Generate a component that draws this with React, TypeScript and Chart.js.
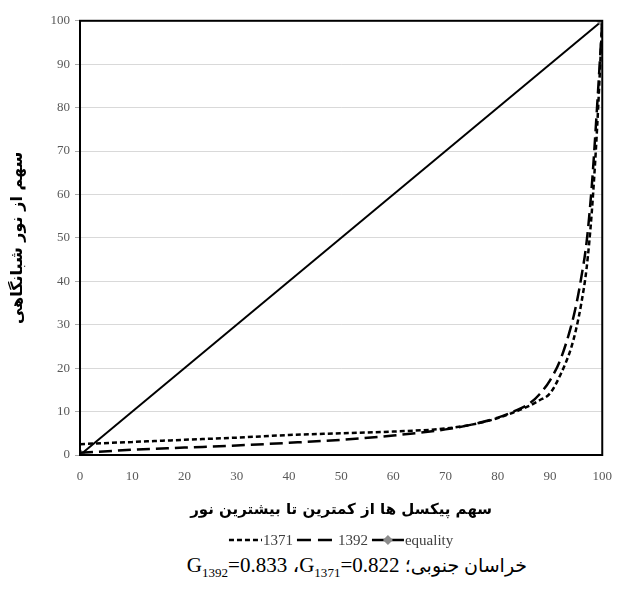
import { useEffect, useRef } from "react";
import { Chart, registerables } from "chart.js";

Chart.register(...registerables);

// ---- data ----
const xValues = [0, 10, 20, 30, 40, 50, 60, 70, 75, 80, 83, 86, 88, 90, 92, 94, 95, 96, 97, 98, 99, 100];
const series1371 = [2.5, 3.0, 3.5, 4.0, 4.6, 5.0, 5.4, 6.1, 7.0, 8.5, 9.8, 11.3, 12.6, 14.2, 18.5, 24.5, 29, 35, 43, 56, 75, 100];
const series1392 = [0.5, 1.2, 1.7, 2.2, 2.8, 3.5, 4.5, 5.9, 7.0, 8.6, 10.0, 11.8, 14.0, 17.2, 22.0, 29.5, 34.5, 41, 49, 62, 80, 100];
const equalityX = [0, 100];
const equalityY = [0, 100];
const seriesNames = ["1371", "1392", "equality"];
const xAxisTitle = "سهم پیکسل ها از کمترین تا بیشترین نور";
const yAxisTitle = "سهم از نور شبانگاهی";

const toPoints = (xs: number[], ys: number[]) => xs.map((x, i) => ({ x, y: ys[i] }));

const serif = "'Liberation Serif', 'Times New Roman', serif";
const persian = "'DejaVu Sans', sans-serif";

const borderPlugin = {
  id: "plotBorder",
  afterDatasetsDraw(chart: any) {
    const { ctx, chartArea: a } = chart;
    ctx.save();
    ctx.strokeStyle = "#000";
    ctx.lineWidth = 2;
    ctx.strokeRect(a.left, a.top, a.right - a.left, a.bottom - a.top);
    ctx.restore();
  },
};

const legendPlugin = {
  id: "customLegend",
  afterDraw(chart: any) {
    const { ctx, chartArea: a, height } = chart;
    const y = height - 10;
    ctx.save();
    ctx.font = `15px ${serif}`;
    ctx.textBaseline = "middle";
    const items = [
      { text: seriesNames[0], dash: [5, 3], sw: 33, diamond: false },
      { text: seriesNames[1], dash: [14, 7], sw: 40, diamond: false },
      { text: seriesNames[2], dash: [], sw: 32, diamond: true },
    ];
    const gap = 4;
    const total = items.reduce((s, it) => s + it.sw + 1 + ctx.measureText(it.text).width + gap, 0) - gap;
    let x = (a.left + a.right) / 2 - total / 2;
    for (const it of items) {
      ctx.strokeStyle = "#000";
      ctx.lineWidth = 2.5;
      ctx.setLineDash(it.dash);
      ctx.beginPath();
      ctx.moveTo(x, y);
      ctx.lineTo(x + it.sw, y);
      ctx.stroke();
      ctx.setLineDash([]);
      if (it.diamond) {
        const cx = x + it.sw / 2;
        ctx.fillStyle = "#8c8c8c";
        ctx.beginPath();
        ctx.moveTo(cx, y - 5);
        ctx.lineTo(cx + 5, y);
        ctx.lineTo(cx, y + 5);
        ctx.lineTo(cx - 5, y);
        ctx.closePath();
        ctx.fill();
      }
      x += it.sw + 1;
      ctx.fillStyle = "#404040";
      ctx.textAlign = "left";
      ctx.fillText(it.text, x, y + 1);
      x += ctx.measureText(it.text).width + gap;
    }
    ctx.restore();
  },
};

export default function App() {
  const ref = useRef<HTMLCanvasElement | null>(null);

  useEffect(() => {
    if (!ref.current) return;
    const chart = new Chart(ref.current, {
      type: "scatter",
      data: {
        datasets: [
          {
            label: seriesNames[0],
            data: toPoints(xValues, series1371),
            showLine: true,
            borderColor: "#000",
            borderWidth: 2.5,
            borderDash: [5, 3],
            pointRadius: 0,
            cubicInterpolationMode: "monotone",
            fill: false,
          },
          {
            label: seriesNames[1],
            data: toPoints(xValues, series1392),
            showLine: true,
            borderColor: "#000",
            borderWidth: 2.5,
            borderDash: [13, 6],
            pointRadius: 0,
            cubicInterpolationMode: "monotone",
            fill: false,
          },
          {
            label: seriesNames[2],
            data: toPoints(equalityX, equalityY),
            showLine: true,
            borderColor: "#000",
            borderWidth: 2,
            pointStyle: "rectRot",
            pointRadius: 5,
            pointBackgroundColor: "#8c8c8c",
            pointBorderColor: "#8c8c8c",
            fill: false,
          },
        ],
      },
      options: {
        responsive: false,
        animation: false,
        layout: { padding: { left: 0, top: 11, right: 15, bottom: 30 } },
        plugins: { legend: { display: false }, tooltip: { enabled: false } },
        scales: {
          x: {
            type: "linear",
            min: 0,
            max: 100,
            afterFit: (s: any) => {
              s.height = 65;
            },
            grid: { display: false, drawTicks: false },
            border: { display: false },
            ticks: {
              stepSize: 10,
              padding: 14,
              color: "#595959",
              font: { family: serif, size: 13 },
              maxRotation: 0,
            },
            title: {
              display: true,
              text: xAxisTitle,
              color: "#000",
              font: { family: persian, size: 15, weight: "bold" },
              padding: { top: 0, bottom: 1 },
            },
          },
          y: {
            type: "linear",
            min: 0,
            max: 100,
            afterFit: (s: any) => {
              s.width = 72;
            },
            grid: {
              color: "#d9d9d9",
              lineWidth: 1,
              drawTicks: true,
              tickLength: 5,
              tickColor: "#aaa",
            },
            border: { display: false },
            ticks: {
              stepSize: 10,
              padding: 5,
              color: "#595959",
              font: { family: serif, size: 13 },
            },
            title: {
              display: true,
              text: yAxisTitle,
              color: "#000",
              font: { family: persian, size: 16, weight: "bold" },
              padding: { top: 0, bottom: 0 },
            },
          },
        },
      },
      plugins: [borderPlugin, legendPlugin],
    });
    return () => chart.destroy();
  }, []);

  return (
    <div>
      <canvas ref={ref} width={618} height={542} style={{ display: "block" }} />
      <div
        style={{
          direction: "ltr",
          textAlign: "center",
          paddingLeft: 88,
          marginTop: 3,
          fontFamily: "'Liberation Serif', 'DejaVu Sans', serif",
          fontSize: 21,
          lineHeight: "25px",
          color: "#000",
        }}
      >
        <span>
          G<sub style={{ fontSize: "0.62em" }}>1392</sub>=0.833{" "}
        </span>
        <span>،</span>
        <span>
          G<sub style={{ fontSize: "0.62em" }}>1371</sub>=0.822{" "}
        </span>
        <bdi dir="rtl" style={{ fontSize: 19 }}>خراسان جنوبی؛</bdi>
      </div>
    </div>
  );
}
